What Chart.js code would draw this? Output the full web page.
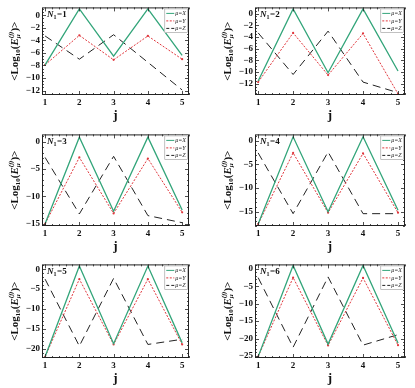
<!DOCTYPE html>
<html>
<head>
<meta charset="utf-8">
<script src="https://cdn.jsdelivr.net/npm/chart.js@4.4.1/dist/chart.umd.min.js"></script>
<style>
  html, body { margin: 0; padding: 0; background: #fff; }
  #page { position: relative; width: 415px; height: 388px; overflow: hidden; }
  canvas { position: absolute; }
</style>
</head>
<body>
<div id="page"></div>
<script>
// sites j along the chain
const sites = [1, 2, 3, 4, 5];
const chainN1 = [1, 2, 3, 4, 5, 6];

// <Log10(E_mu^(j))> per panel (N1 = 1..6)
const muX = [
  [-7.9, 1.0, -6.5, 1.0, -6.4],
  [-11.5, 0.8, -10.1, 0.8, -9.8],
  [-15.0, 0.8, -12.7, 0.8, -12.5],
  [-17.6, 0.8, -15.0, 0.8, -14.7],
  [-22.0, 0.8, -18.7, 0.8, -18.5],
  [-25.2, 1.0, -21.6, 1.0, -21.3]
];
const muY = [
  [-7.9, -3.2, -7.1, -3.3, -7.0],
  [-11.7, -3.3, -10.5, -3.4, -13.7],
  [-15.0, -2.9, -13.1, -3.1, -12.9],
  [-17.6, -2.6, -15.2, -2.7, -15.2],
  [-22.0, -2.5, -18.9, -2.5, -18.9],
  [-25.2, -2.5, -22.0, -2.6, -21.9]
];
const muZ = [
  [-3.3, -7.0, -3.1, -7.5, -11.9],
  [-3.3, -10.4, -3.0, -11.7, -13.5],
  [-2.9, -13.2, -2.7, -13.5, -14.8],
  [-2.6, -15.4, -2.4, -15.4, -15.4],
  [-2.5, -19.3, -2.3, -18.9, -17.6],
  [-2.5, -22.5, -2.3, -21.9, -18.9]
];

// y range and tick step per panel
const yMin = [-12.7, -13.9, -15.4, -18.0, -22.3, -25.6];
const yMax = [1.25, 1.05, 1.3, 1.3, 1.2, 1.3];
const yStep = [2, 2, 5, 5, 5, 5];

const serif = "'Liberation Serif', 'DejaVu Serif', serif";

// grid cells: [left, width, yAxisWidth, rightPad] and [top, height, topPad, xAxisHeight]
const cols = [[0, 207, 42, 18], [207, 208, 48, 10]];
const rows = [[0, 127, 2, 32], [127, 130, 4, 31], [257, 131, 4, 30]];

const minus = v => (v < 0 ? '\u2212' + Math.abs(v) : String(v));

const panelDecor = {
  id: 'panelDecor',
  afterDatasetsDraw(chart, args, opts) {
    const { ctx, chartArea: a, scales: { x, y } } = chart;
    ctx.save();
    ctx.strokeStyle = '#222';
    ctx.lineWidth = 1;
    ctx.strokeRect(a.left + 0.5, a.top + 0.5, a.right - a.left - 1, a.bottom - a.top - 1);

    // inward ticks on all four sides
    ctx.lineWidth = 0.8;
    ctx.beginPath();
    for (let k = Math.ceil(x.min / 0.2); k * 0.2 <= x.max; k++) {
      const v = k * 0.2;
      const len = Math.abs(v - Math.round(v)) < 1e-6 ? 4 : 2;
      const px = Math.round(x.getPixelForValue(v)) + 0.5;
      ctx.moveTo(px, a.bottom); ctx.lineTo(px, a.bottom - len);
      ctx.moveTo(px, a.top); ctx.lineTo(px, a.top + len);
    }
    const minor = opts.step / (opts.step === 2 ? 4 : 5);
    for (let k = Math.ceil(y.min / minor); k * minor <= y.max; k++) {
      const v = k * minor;
      const len = Math.abs(v / opts.step - Math.round(v / opts.step)) < 1e-6 ? 4 : 2;
      const py = Math.round(y.getPixelForValue(v)) + 0.5;
      ctx.moveTo(a.left, py); ctx.lineTo(a.left + len, py);
      ctx.moveTo(a.right, py); ctx.lineTo(a.right - len, py);
    }
    ctx.stroke();

    // N1 label
    ctx.fillStyle = '#111';
    ctx.textBaseline = 'alphabetic';
    let tx = a.left + 5;
    const ty = a.top + 10;
    ctx.font = `italic bold 9px ${serif}`;
    ctx.fillText('N', tx, ty); tx += ctx.measureText('N').width;
    ctx.font = `bold 6px ${serif}`;
    ctx.fillText('1', tx, ty + 2); tx += ctx.measureText('1').width + 0.5;
    ctx.font = `bold 9px ${serif}`;
    ctx.fillText('=' + opts.n, tx, ty);

    // legend box, top right inside the frame
    const ds = chart.data.datasets;
    ctx.font = `italic 6px ${serif}`;
    const tw = Math.max(...ds.map(d => ctx.measureText(d.label).width));
    const bw = 8 + 2 + tw + 3, bh = ds.length * 7.5 + 2;
    const bx = a.right - bw - 1, by = a.top + 1;
    ctx.fillStyle = '#fff';
    ctx.fillRect(bx, by, bw, bh);
    ctx.strokeStyle = '#999';
    ctx.lineWidth = 0.6;
    ctx.strokeRect(bx + 0.5, by + 0.5, bw - 1, bh - 1);
    ds.forEach((d, i) => {
      const ly = by + 5 + i * 7.5;
      ctx.strokeStyle = d.borderColor;
      ctx.lineWidth = 1;
      ctx.setLineDash(d.legendDash);
      ctx.beginPath(); ctx.moveTo(bx + 2, ly); ctx.lineTo(bx + 10, ly); ctx.stroke();
      ctx.setLineDash([]);
      ctx.fillStyle = '#222';
      ctx.textBaseline = 'middle';
      ctx.fillText(d.label, bx + 11, ly + 0.5);
    });

    // x title
    ctx.fillStyle = '#111';
    ctx.textAlign = 'center';
    ctx.textBaseline = 'middle';
    ctx.font = `bold 13px ${serif}`;
    ctx.fillText('j', (a.left + a.right) / 2, a.bottom + 21);

    // y title <Log10(E_mu^(j))>
    const big = `bold 11px ${serif}`, bigI = `italic bold 11px ${serif}`;
    const sm = `bold 7px ${serif}`, smI = `italic bold 7px ${serif}`;
    const parts = [
      { t: '<Log', f: big, dy: 0 },
      { t: '10', f: sm, dy: 3 },
      { t: '(', f: big, dy: 0 },
      { t: 'E', f: bigI, dy: 0 },
      { stack: [{ t: '\u03bc', f: smI, dy: 3 }, { t: '(j)', f: smI, dy: -4 }] },
      { t: ')>', f: big, dy: 0 }
    ];
    const width = p => {
      if (p.stack) return Math.max(...p.stack.map(width));
      ctx.font = p.f; return ctx.measureText(p.t).width;
    };
    const total = parts.reduce((s, p) => s + width(p), 0);
    ctx.translate(a.left - 27, (a.top + a.bottom) / 2);
    ctx.rotate(-Math.PI / 2);
    ctx.textAlign = 'left';
    let cx = -total / 2;
    parts.forEach(p => {
      (p.stack || [p]).forEach(q => { ctx.font = q.f; ctx.fillText(q.t, cx, q.dy); });
      cx += width(p);
    });
    ctx.restore();
  }
};

const page = document.getElementById('page');

chainN1.forEach((n, i) => {
  const col = cols[i % 2], row = rows[Math.floor(i / 2)];
  const canvas = document.createElement('canvas');
  canvas.width = col[1];
  canvas.height = row[1];
  canvas.style.left = col[0] + 'px';
  canvas.style.top = row[0] + 'px';
  page.appendChild(canvas);

  const pts = arr => sites.map((j, k) => ({ x: j, y: arr[k] }));

  new Chart(canvas, {
    type: 'line',
    data: {
      datasets: [
        { label: '\u03bc=X', data: pts(muX[i]), borderColor: '#33a57a', borderWidth: 1.3,
          pointRadius: 0, legendDash: [] },
        { label: '\u03bc=Y', data: pts(muY[i]), borderColor: '#e0363c', borderWidth: 1,
          borderDash: [2, 1.5], pointRadius: 1.1, pointBackgroundColor: '#e0363c',
          pointBorderWidth: 0, legendDash: [2, 1.5] },
        { label: '\u03bc=Z', data: pts(muZ[i]), borderColor: '#222', borderWidth: 1,
          borderDash: [8, 5], pointRadius: 0, legendDash: [3, 2] }
      ]
    },
    options: {
      responsive: false,
      animation: false,
      layout: { padding: { left: 0, right: col[3], top: row[2], bottom: 0 } },
      plugins: {
        legend: { display: false },
        tooltip: { enabled: false },
        panelDecor: { n: n, step: yStep[i] }
      },
      scales: {
        x: {
          type: 'linear', min: 0.91, max: 5.2,
          grid: { display: false, drawTicks: false },
          border: { display: false },
          ticks: { stepSize: 1, includeBounds: false, autoSkip: false, padding: 2, color: '#111',
                   font: { family: serif, size: 9, weight: 'bold' } },
          afterFit: s => { s.height = row[3]; }
        },
        y: {
          type: 'linear', min: yMin[i], max: yMax[i],
          grid: { display: false, drawTicks: false },
          border: { display: false },
          ticks: { stepSize: yStep[i], includeBounds: false, autoSkip: false, padding: 2, color: '#111',
                   font: { family: serif, size: 9, weight: 'bold' }, callback: minus },
          afterFit: s => { s.width = col[2]; }
        }
      }
    },
    plugins: [panelDecor]
  });
});
</script>
</body>
</html>
